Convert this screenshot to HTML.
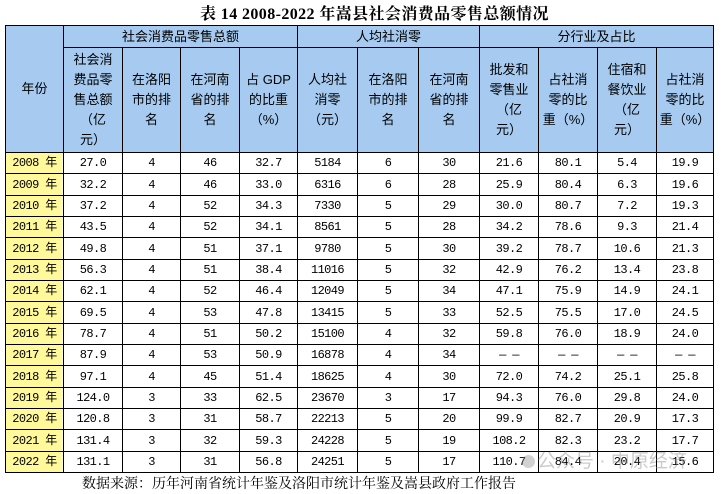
<!DOCTYPE html>
<html><head><meta charset="utf-8">
<style>
html,body{margin:0;padding:0;background:#fff;}
body{width:723px;height:494px;position:relative;overflow:hidden;}
.title{position:absolute;left:200px;top:5px;width:360px;font:bold 16px/20px "Liberation Serif","Noto Serif CJK SC",serif;letter-spacing:0.4px;white-space:nowrap;color:#000;}
.grid{position:absolute;left:5px;top:25px;display:grid;background:#000;padding:1px;gap:1px;
grid-template-columns:57px 58px 57px 58px 57px 59px 60px 60px 58px 58px 58px 56px;
grid-template-rows:21px 104px 20px 21px 20px 20px 21px 20px 20px 21px 20px 20px 21px 20px 20px 21px 20px;}
.grid>div{background:#fff;display:flex;align-items:center;justify-content:center;text-align:center;color:#000;
font:12px/20px "Liberation Mono","Noto Sans CJK SC",monospace;letter-spacing:-0.6px;white-space:nowrap;}
.grid>div.h{background:#a6caf0;font:13px/20px "Liberation Sans","Noto Sans CJK SC",sans-serif;letter-spacing:0;}
.grid>div.y{background:linear-gradient(to right,#fff99c 0,#fff99c calc(100% - 2px),#fffde6 100%);}
.src{position:absolute;left:82px;top:476px;font:14px/18px "Liberation Serif","Noto Serif CJK SC",serif;white-space:nowrap;color:#000;}
.wm{position:absolute;left:522px;top:450px;font:19px/24px "Liberation Sans","Noto Sans CJK SC",sans-serif;color:rgba(140,140,140,0.45);white-space:nowrap;}
.wm i{display:inline-block;width:13px;height:13px;border-radius:50%;background:rgba(140,140,140,0.4);vertical-align:middle;margin-right:2px;}
</style></head><body>
<div class="title">表 14 2008-2022 年嵩县社会消费品零售总额情况</div>
<div class="grid">
<div class="h" style="grid-row:1/3;grid-column:1">年份</div>
<div class="h" style="grid-column:2/6">社会消费品零售总额</div>
<div class="h" style="grid-column:6/9">人均社消零</div>
<div class="h" style="grid-column:9/13">分行业及占比</div>
<div class="h">社会消<br>费品零<br>售总额<br>（亿<br>元）</div>
<div class="h">在洛阳<br>市的排<br>名</div>
<div class="h">在河南<br>省的排<br>名</div>
<div class="h">占 GDP<br>的比重<br>（%）</div>
<div class="h">人均社<br>消零<br>（元）</div>
<div class="h">在洛阳<br>市的排<br>名</div>
<div class="h">在河南<br>省的排<br>名</div>
<div class="h">批发和<br>零售业<br>（亿<br>元）</div>
<div class="h">占社消<br>零的比<br>重（%）</div>
<div class="h">住宿和<br>餐饮业<br>（亿<br>元）</div>
<div class="h">占社消<br>零的比<br>重（%）</div>

<div class="y">2008 年</div><div>27.0</div><div>4</div><div>46</div><div>32.7</div><div>5184</div><div>6</div><div>30</div><div>21.6</div><div>80.1</div><div>5.4</div><div>19.9</div>
<div class="y">2009 年</div><div>32.2</div><div>4</div><div>46</div><div>33.0</div><div>6316</div><div>6</div><div>28</div><div>25.9</div><div>80.4</div><div>6.3</div><div>19.6</div>
<div class="y">2010 年</div><div>37.2</div><div>4</div><div>52</div><div>34.3</div><div>7330</div><div>5</div><div>29</div><div>30.0</div><div>80.7</div><div>7.2</div><div>19.3</div>
<div class="y">2011 年</div><div>43.5</div><div>4</div><div>52</div><div>34.1</div><div>8561</div><div>5</div><div>28</div><div>34.2</div><div>78.6</div><div>9.3</div><div>21.4</div>
<div class="y">2012 年</div><div>49.8</div><div>4</div><div>51</div><div>37.1</div><div>9780</div><div>5</div><div>30</div><div>39.2</div><div>78.7</div><div>10.6</div><div>21.3</div>
<div class="y">2013 年</div><div>56.3</div><div>4</div><div>51</div><div>38.4</div><div>11016</div><div>5</div><div>32</div><div>42.9</div><div>76.2</div><div>13.4</div><div>23.8</div>
<div class="y">2014 年</div><div>62.1</div><div>4</div><div>52</div><div>46.4</div><div>12049</div><div>5</div><div>34</div><div>47.1</div><div>75.9</div><div>14.9</div><div>24.1</div>
<div class="y">2015 年</div><div>69.5</div><div>4</div><div>53</div><div>47.8</div><div>13415</div><div>5</div><div>33</div><div>52.5</div><div>75.5</div><div>17.0</div><div>24.5</div>
<div class="y">2016 年</div><div>78.7</div><div>4</div><div>51</div><div>50.2</div><div>15100</div><div>4</div><div>32</div><div>59.8</div><div>76.0</div><div>18.9</div><div>24.0</div>
<div class="y">2017 年</div><div>87.9</div><div>4</div><div>53</div><div>50.9</div><div>16878</div><div>4</div><div>34</div><div>— —</div><div>— —</div><div>— —</div><div>— —</div>
<div class="y">2018 年</div><div>97.1</div><div>4</div><div>45</div><div>51.4</div><div>18625</div><div>4</div><div>30</div><div>72.0</div><div>74.2</div><div>25.1</div><div>25.8</div>
<div class="y">2019 年</div><div>124.0</div><div>3</div><div>33</div><div>62.5</div><div>23670</div><div>3</div><div>17</div><div>94.3</div><div>76.0</div><div>29.8</div><div>24.0</div>
<div class="y">2020 年</div><div>120.8</div><div>3</div><div>31</div><div>58.7</div><div>22213</div><div>5</div><div>20</div><div>99.9</div><div>82.7</div><div>20.9</div><div>17.3</div>
<div class="y">2021 年</div><div>131.4</div><div>3</div><div>32</div><div>59.3</div><div>24228</div><div>5</div><div>19</div><div>108.2</div><div>82.3</div><div>23.2</div><div>17.7</div>
<div class="y">2022 年</div><div>131.1</div><div>3</div><div>31</div><div>56.8</div><div>24251</div><div>5</div><div>17</div><div>110.7</div><div>84.4</div><div>20.4</div><div>15.6</div>
</div>
<div class="wm"><i></i>公众号 · 中原经济</div>
<div class="src">数据来源：历年河南省统计年鉴及洛阳市统计年鉴及嵩县政府工作报告</div>
</body></html>
